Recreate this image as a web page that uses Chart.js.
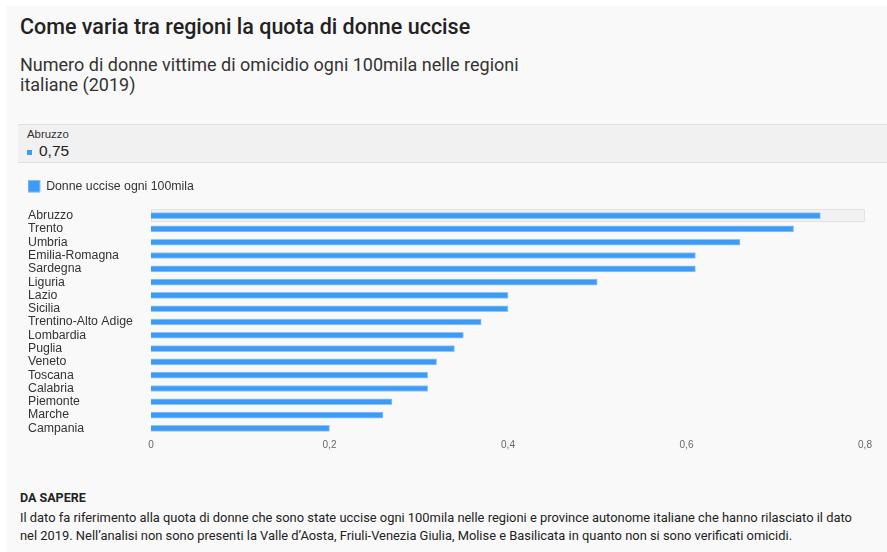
<!DOCTYPE html>
<html><head><meta charset="utf-8">
<script src="https://cdn.jsdelivr.net/npm/chart.js@4"></script>
<style>
html,body{margin:0;padding:0;background:#fff;}
body{width:887px;height:552px;position:relative;overflow:hidden;font-family:Roboto, sans-serif;}
#panel{position:absolute;left:6px;top:6px;right:0;bottom:0;background:#f9f9f9;}
#title{position:absolute;left:20px;top:14px;font-size:21.5px;line-height:26px;font-weight:500;color:#222;white-space:nowrap;}
#subtitle{position:absolute;left:20px;top:55px;font-size:18px;line-height:20px;color:#333;white-space:nowrap;}
#tip{position:absolute;left:18px;top:124px;right:0;height:37px;background:#f1f1f1;border-top:1px solid #e0e0e0;border-bottom:1px solid #e0e0e0;font-family:"Liberation Sans",Arial,sans-serif;}
#tipName{position:absolute;left:9px;top:3px;font-size:11.4px;color:#333;}
#tipSq{position:absolute;left:9px;top:25px;width:5px;height:5px;}
#tipVal{position:absolute;left:21px;top:17px;font-size:15.5px;color:#222;}
#chartbox{position:absolute;left:0;top:170px;width:887px;height:291px;}
#foot{position:absolute;left:20px;top:490px;color:#222;}
#footH{font-size:12.5px;font-weight:700;line-height:16px;}
#footT{font-size:12.9px;line-height:18px;margin-top:3px;white-space:nowrap;}
</style>
</head>
<body>
<div id="panel"></div>
<div id="title">Come varia tra regioni la quota di donne uccise</div>
<div id="subtitle">Numero di donne vittime di omicidio ogni 100mila nelle regioni<br>italiane (2019)</div>
<div id="tip"><div id="tipName"></div><div id="tipSq"></div><div id="tipVal"></div></div>
<div id="chartbox"><canvas id="c" width="887" height="291"></canvas></div>
<div id="foot"><div id="footH">DA SAPERE</div><div id="footT">Il dato fa riferimento alla quota di donne che sono state uccise ogni 100mila nelle regioni e province autonome italiane che hanno rilasciato il dato<br>nel 2019. Nell’analisi non sono presenti la Valle d’Aosta, Friuli-Venezia Giulia, Molise e Basilicata in quanto non si sono verificati omicidi.</div></div>
<script>
const regions = ["Abruzzo","Trento","Umbria","Emilia-Romagna","Sardegna","Liguria","Lazio","Sicilia","Trentino-Alto Adige","Lombardia","Puglia","Veneto","Toscana","Calabria","Piemonte","Marche","Campania"];
const values = [0.75,0.72,0.66,0.61,0.61,0.50,0.40,0.40,0.37,0.35,0.34,0.32,0.31,0.31,0.27,0.26,0.20];
const seriesLabel = "Donne uccise ogni 100mila";
const xMin = 0, xMax = 0.8, xStep = 0.2;
const highlightIndex = 0;
const barColor = "#3d9bf5";

function fmt(v){ return v === 0 ? "0" : v.toFixed(2).replace(/0$/,"").replace(".", ","); }

document.getElementById("tipName").textContent = regions[highlightIndex];
document.getElementById("tipVal").textContent = fmt(values[highlightIndex]);
document.getElementById("tipSq").style.background = barColor;

const rowHighlight = {
  id: "rowHighlight",
  beforeDatasetsDraw(chart){
    const {ctx, chartArea, scales} = chart;
    const y = scales.y;
    const c = y.getPixelForValue(highlightIndex);
    const h = y.getPixelForValue(1) - y.getPixelForValue(0);
    ctx.save();
    ctx.fillStyle = "#f1f1f1";
    ctx.fillRect(chartArea.left, c - h/2, chartArea.right - chartArea.left, h);
    ctx.strokeStyle = "#e3e3e3";
    ctx.lineWidth = 1;
    ctx.strokeRect(Math.round(chartArea.left) + 0.5, Math.round(c - h/2) + 0.5, Math.round(chartArea.right - chartArea.left) - 1, Math.round(h) - 1);
    ctx.restore();
  }
};
const legendSpace = {
  id: "legendSpace",
  afterInit(chart){
    const lg = chart.legend;
    if (!lg) return;
    const orig = lg.fit;
    lg.fit = function(){ orig.call(this); this.height = 29; };
  }
};

new Chart(document.getElementById("c"), {
  type: "bar",
  data: {
    labels: regions,
    datasets: [{
      label: seriesLabel,
      data: values,
      backgroundColor: barColor,
      borderColor: "#8fc6f8",
      borderWidth: 1,
      barThickness: 6
    }]
  },
  options: {
    indexAxis: "y",
    responsive: false,
    animation: false,
    devicePixelRatio: 1,
    layout: { padding: { left: 28, right: 22, top: 10, bottom: 6 } },
    plugins: {
      tooltip: { enabled: false },
      legend: {
        align: "start",
        labels: {
          boxWidth: 12, boxHeight: 12, padding: 0,
          color: "#333",
          font: { family: "'Liberation Sans', Arial, sans-serif", size: 12.3 }
        }
      }
    },
    scales: {
      x: {
        min: xMin, max: xMax,
        grid: { display: false, drawTicks: false },
        border: { display: false },
        ticks: {
          stepSize: xStep, padding: 4, color: "#666",
          font: { family: "'Liberation Sans', Arial, sans-serif", size: 10 },
          callback: v => fmt(Number(v))
        }
      },
      y: {
        grid: { display: false, drawTicks: false },
        border: { display: false },
        afterFit(scale){ scale.width = 123; },
        ticks: {
          crossAlign: "far", autoSkip: false, color: "#333",
          font: { family: "'Liberation Sans', Arial, sans-serif", size: 12.3 }
        }
      }
    }
  },
  plugins: [rowHighlight, legendSpace]
});
</script>
</body></html>
